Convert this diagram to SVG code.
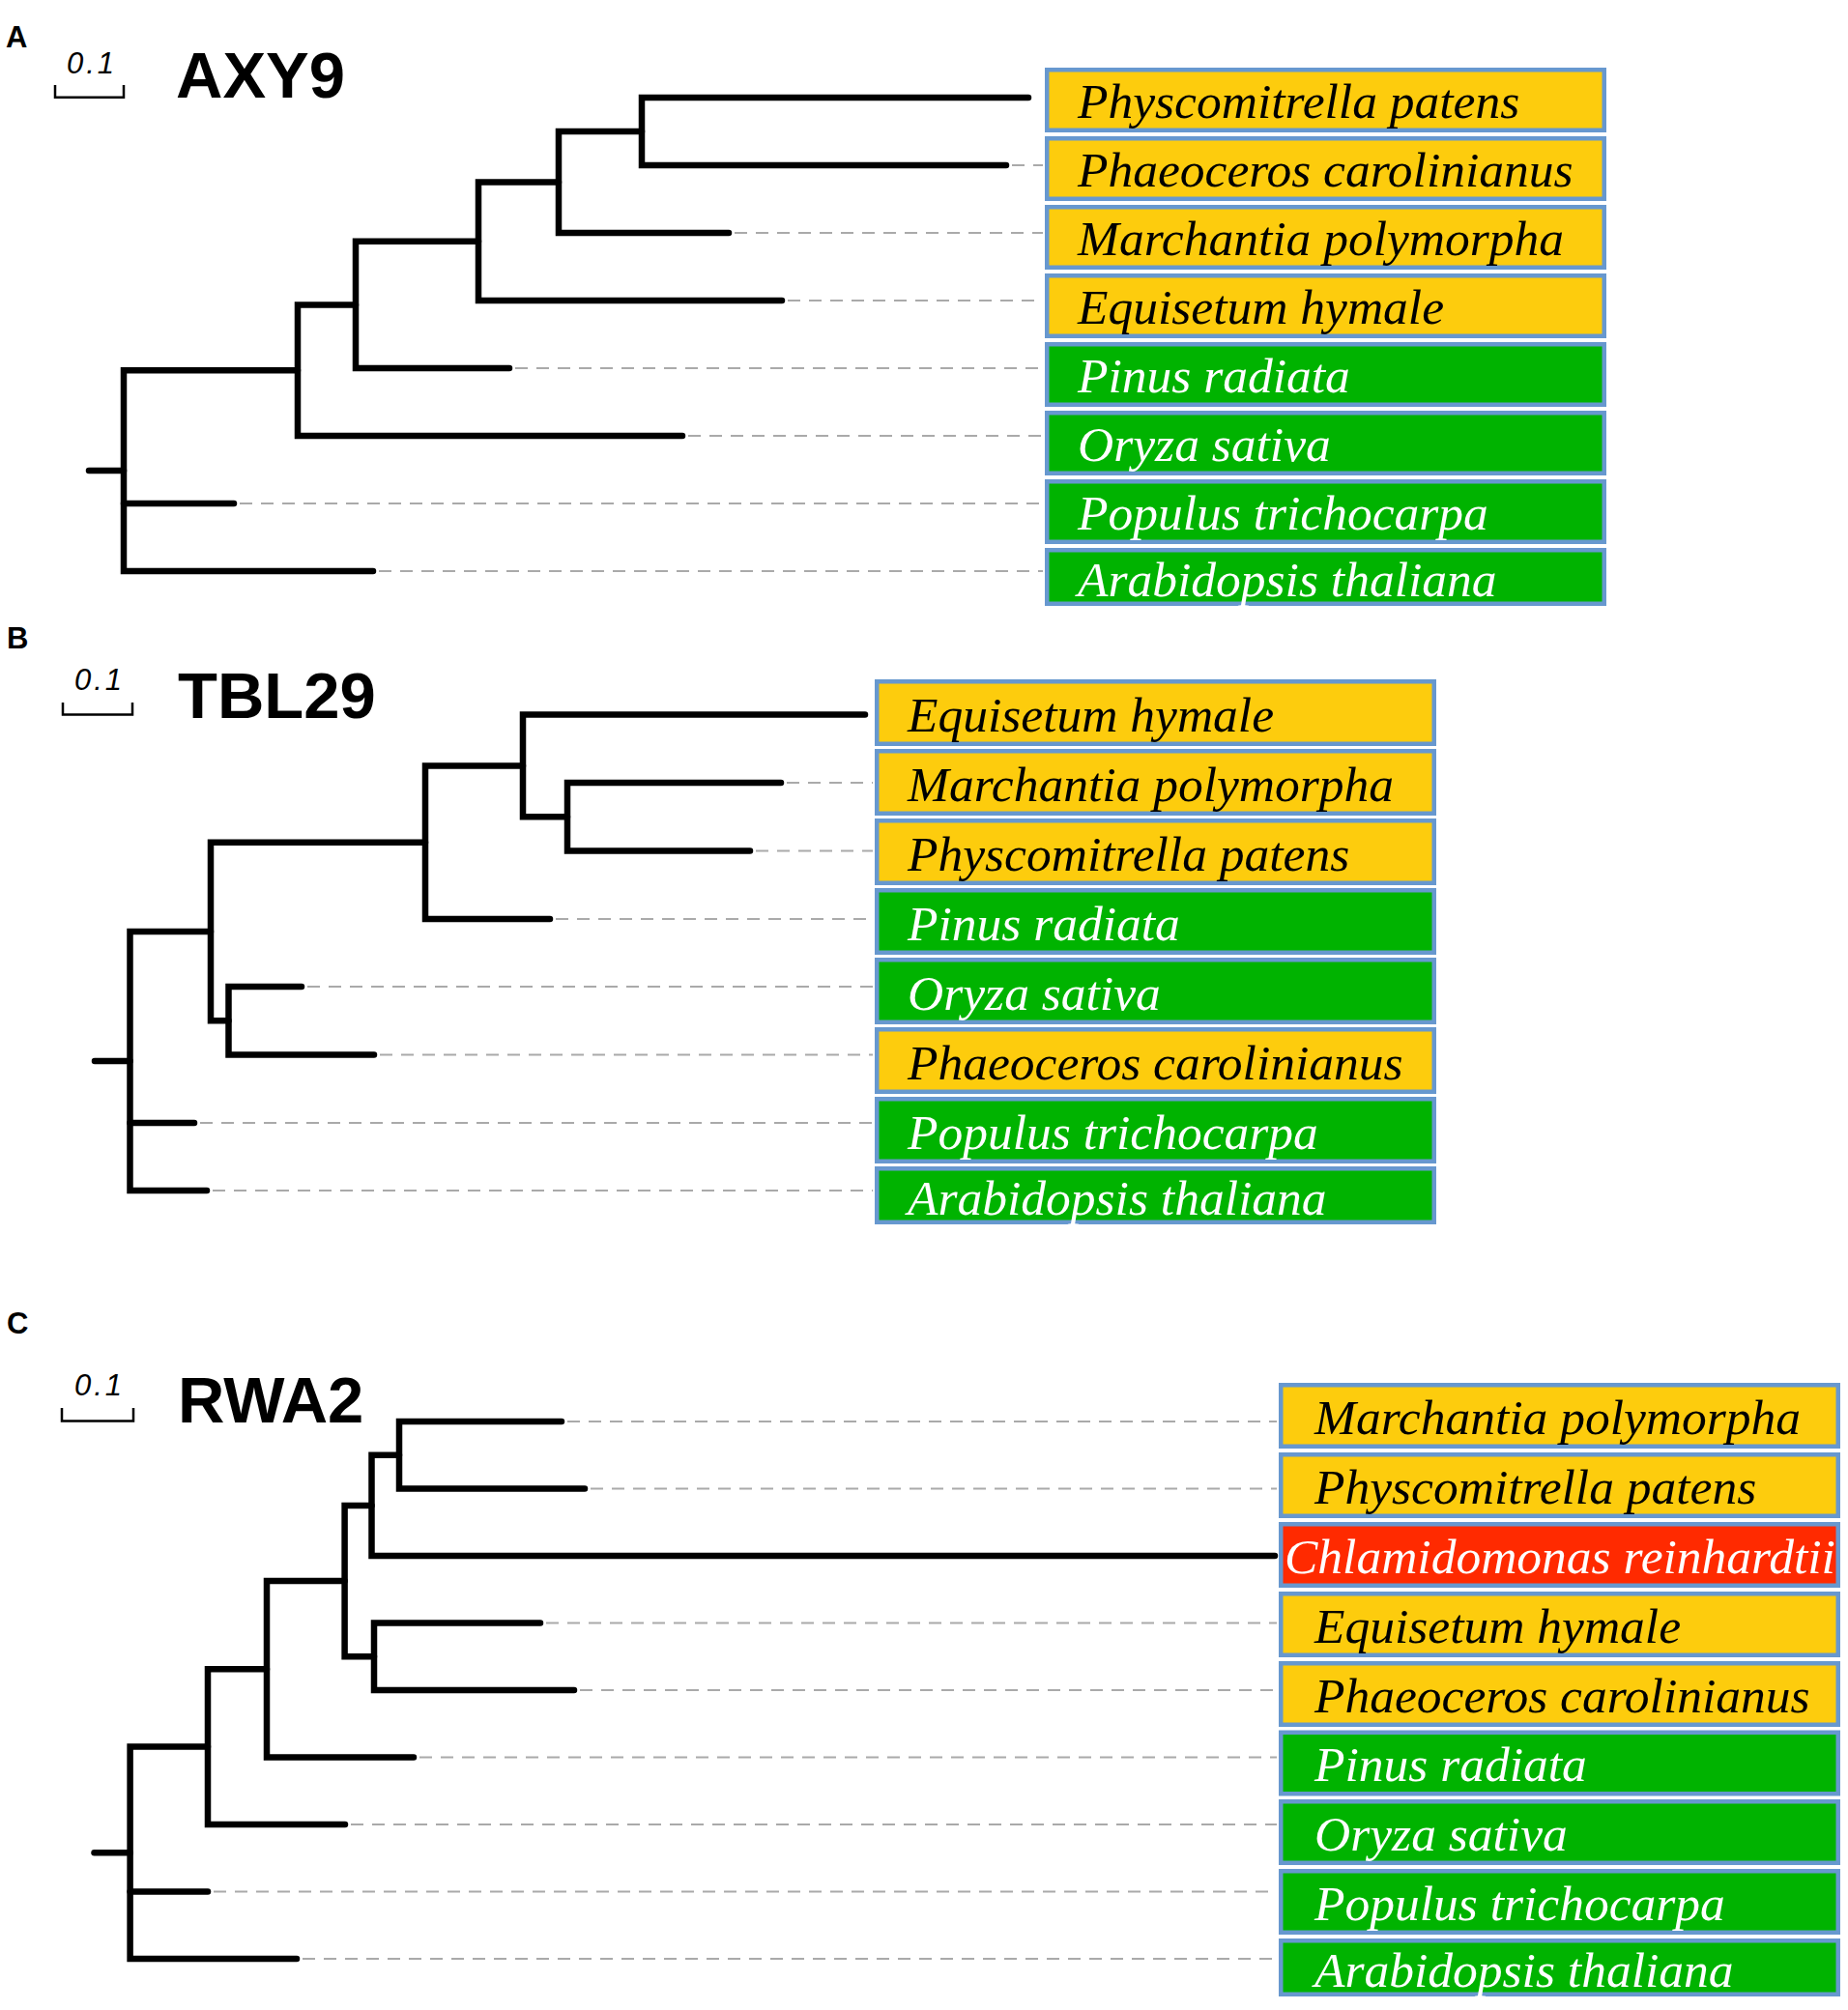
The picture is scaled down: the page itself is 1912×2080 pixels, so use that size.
<svg xmlns="http://www.w3.org/2000/svg" width="1912" height="2080" viewBox="0 0 1912 2080">
<style>
.br{fill:none;stroke:#000;stroke-width:6.5;stroke-linecap:round;stroke-linejoin:miter}
.dl{fill:none;stroke:#aaaaaa;stroke-width:2;stroke-dasharray:13 9}
.sb{fill:none;stroke:#000;stroke-width:2.5}
.bx{stroke:#6798cf;stroke-width:4.5}
.y{fill:#fdcc0d}.g{fill:#00b300}.r{fill:#ff2a00}
.t{font-family:"Liberation Serif","Times New Roman",serif;font-style:italic;font-size:51.5px}
.tb{fill:#000}.tw{fill:#fff}
.pl{font-family:"Liberation Sans",Arial,sans-serif;font-weight:bold;font-size:31px}
.ti{font-family:"Liberation Sans",Arial,sans-serif;font-weight:bold;font-size:67px}
.sc{font-family:"Liberation Sans",Arial,sans-serif;font-style:italic;font-size:31px;letter-spacing:3px;text-anchor:middle}
</style>
<rect width="1912" height="2080" fill="#fff"/>
<g id="headers">
<text class="pl" x="6" y="49">A</text>
<path class="sb" d="M57 88 V100.7 H128 V88"/>
<text class="sc" x="95" y="76">0.1</text>
<text class="ti" x="182" y="101">AXY9</text>
<text class="pl" x="7" y="671">B</text>
<path class="sb" d="M65 727 V739.5 H137 V727"/>
<text class="sc" x="103" y="714">0.1</text>
<text class="ti" x="184" y="743">TBL29</text>
<text class="pl" x="7" y="1380">C</text>
<path class="sb" d="M64 1457 V1470.5 H138 V1457"/>
<text class="sc" x="103" y="1444">0.1</text>
<text class="ti" x="184" y="1472">RWA2</text>
</g>
<g id="connectors">
<!-- Panel A -->
<path class="br" d="M308 383.2 H128 V591 H386"/>
<path class="br" d="M128 521 H242"/>
<path class="br" d="M92 487 H128"/>
<path class="br" d="M368 315.4 H308 V451 H706"/>
<path class="br" d="M495 249.75 H368 V381 H527"/>
<path class="br" d="M578 188.5 H495 V311 H809"/>
<path class="br" d="M664 136 H578 V241 H754"/>
<path class="br" d="M1064 101 H664 V171 H1041"/>
<path class="dl" d="M1047 171 H1079 M760 241 H1079 M815 311 H1079 M533 381 H1079 M712 451 H1079 M248 521 H1079 M392 591 H1079"/>
<!-- Panel B -->
<path class="br" d="M218 964 H134.5 V1232 H214"/>
<path class="br" d="M134.5 1162 H201"/>
<path class="br" d="M98 1098 H134.5"/>
<path class="br" d="M440 871.7 H218 V1056.25 H236.5"/>
<path class="br" d="M312 1021 H236.5 V1091.5 H387"/>
<path class="br" d="M541 792.4 H440 V951 H569"/>
<path class="br" d="M895 739.5 H541 V845.25 H587"/>
<path class="br" d="M808 810 H587 V880.5 H776"/>
<path class="dl" d="M814 810 H903 M782 880.5 H903 M575 951 H903 M318 1021 H903 M393 1091.5 H903 M207 1162 H903 M220 1232 H903"/>
<!-- Panel C -->
<path class="br" d="M215 1807.6 H134.6 V2027 H307"/>
<path class="br" d="M134.6 1957.5 H215"/>
<path class="br" d="M97.5 1917.3 H134.6"/>
<path class="br" d="M276 1727.25 H215 V1888 H357"/>
<path class="br" d="M356.6 1636 H276 V1818.5 H428"/>
<path class="br" d="M384.5 1557.9 H356.6 V1714.25 H387"/>
<path class="br" d="M559 1679.5 H387 V1749 H594"/>
<path class="br" d="M413 1505.75 H384.5 V1610 H1319"/>
<path class="br" d="M581 1471 H413 V1540.5 H605"/>
<path class="dl" d="M587 1471 H1321 M611 1540.5 H1321 M565 1679.5 H1321 M600 1749 H1321 M434 1818.5 H1321 M363 1888 H1321 M221 1957.5 H1321 M313 2027 H1321"/>
</g>
<g id="panelA-leaves">
<g id="A-physcomitrella"><rect class="bx y" x="1083.25" y="72.25" width="576.5" height="62.5"/><text class="t tb" x="1115" y="122">Physcomitrella patens</text></g>
<g id="A-phaeoceros"><rect class="bx y" x="1083.25" y="143.25" width="576.5" height="62.5"/><text class="t tb" x="1115" y="193">Phaeoceros carolinianus</text></g>
<g id="A-marchantia"><rect class="bx y" x="1083.25" y="214.25" width="576.5" height="62.5"/><text class="t tb" x="1115" y="264">Marchantia polymorpha</text></g>
<g id="A-equisetum"><rect class="bx y" x="1083.25" y="285.25" width="576.5" height="62.5"/><text class="t tb" x="1115" y="335">Equisetum hymale</text></g>
<g id="A-pinus"><rect class="bx g" x="1083.25" y="356.25" width="576.5" height="62.5"/><text class="t tw" x="1115" y="406">Pinus radiata</text></g>
<g id="A-oryza"><rect class="bx g" x="1083.25" y="427.25" width="576.5" height="62.5"/><text class="t tw" x="1115" y="477">Oryza sativa</text></g>
<g id="A-populus"><rect class="bx g" x="1083.25" y="498.25" width="576.5" height="62.5"/><text class="t tw" x="1115" y="548">Populus trichocarpa</text></g>
<g id="A-arabidopsis"><rect class="bx g" x="1083.25" y="569.25" width="576.5" height="55.5"/><text class="t tw" x="1115" y="617">Arabidopsis thaliana</text></g>
</g>
<g id="panelB-leaves">
<g id="B-equisetum"><rect class="bx y" x="907.25" y="705.25" width="576.5" height="64.5"/><text class="t tb" x="939" y="757">Equisetum hymale</text></g>
<g id="B-marchantia"><rect class="bx y" x="907.25" y="777.25" width="576.5" height="64.5"/><text class="t tb" x="939" y="829">Marchantia polymorpha</text></g>
<g id="B-physcomitrella"><rect class="bx y" x="907.25" y="849.25" width="576.5" height="64.5"/><text class="t tb" x="939" y="901">Physcomitrella patens</text></g>
<g id="B-pinus"><rect class="bx g" x="907.25" y="921.25" width="576.5" height="64.5"/><text class="t tw" x="939" y="973">Pinus radiata</text></g>
<g id="B-oryza"><rect class="bx g" x="907.25" y="993.25" width="576.5" height="64.5"/><text class="t tw" x="939" y="1045">Oryza sativa</text></g>
<g id="B-phaeoceros"><rect class="bx y" x="907.25" y="1065.25" width="576.5" height="64.5"/><text class="t tb" x="939" y="1117">Phaeoceros carolinianus</text></g>
<g id="B-populus"><rect class="bx g" x="907.25" y="1137.25" width="576.5" height="64.5"/><text class="t tw" x="939" y="1189">Populus trichocarpa</text></g>
<g id="B-arabidopsis"><rect class="bx g" x="907.25" y="1209.25" width="576.5" height="55.5"/><text class="t tw" x="939" y="1257">Arabidopsis thaliana</text></g>
</g>
<g id="panelC-leaves">
<g id="C-marchantia"><rect class="bx y" x="1325.25" y="1433.25" width="576.5" height="63.5"/><text class="t tb" x="1360" y="1484">Marchantia polymorpha</text></g>
<g id="C-physcomitrella"><rect class="bx y" x="1325.25" y="1505.25" width="576.5" height="63.5"/><text class="t tb" x="1360" y="1556">Physcomitrella patens</text></g>
<g id="C-chlamydomonas"><rect class="bx r" x="1325.25" y="1577.25" width="576.5" height="63.5"/><text class="t tw" x="1329" y="1628">Chlamidomonas reinhardtii</text></g>
<g id="C-equisetum"><rect class="bx y" x="1325.25" y="1649.25" width="576.5" height="63.5"/><text class="t tb" x="1360" y="1700">Equisetum hymale</text></g>
<g id="C-phaeoceros"><rect class="bx y" x="1325.25" y="1721.25" width="576.5" height="63.5"/><text class="t tb" x="1360" y="1772">Phaeoceros carolinianus</text></g>
<g id="C-pinus"><rect class="bx g" x="1325.25" y="1792.75" width="576.5" height="63.5"/><text class="t tw" x="1360" y="1843">Pinus radiata</text></g>
<g id="C-oryza"><rect class="bx g" x="1325.25" y="1864.25" width="576.5" height="63.5"/><text class="t tw" x="1360" y="1915">Oryza sativa</text></g>
<g id="C-populus"><rect class="bx g" x="1325.25" y="1936.25" width="576.5" height="63.5"/><text class="t tw" x="1360" y="1987">Populus trichocarpa</text></g>
<g id="C-arabidopsis"><rect class="bx g" x="1325.25" y="2008.25" width="576.5" height="55.5"/><text class="t tw" x="1360" y="2056">Arabidopsis thaliana</text></g>
</g>
</svg>
